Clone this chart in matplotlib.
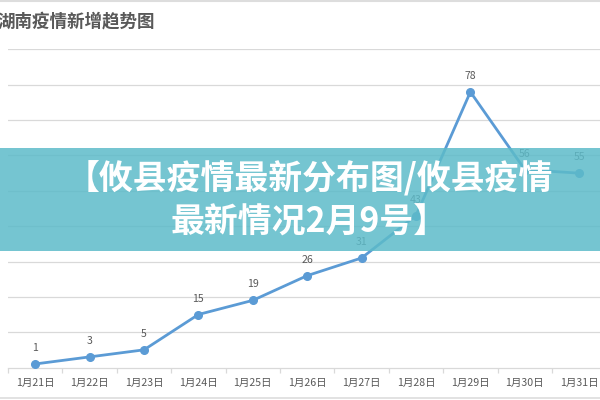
import matplotlib
matplotlib.use("Agg")
import matplotlib.pyplot as plt
from matplotlib.patches import Rectangle
from matplotlib.lines import Line2D

plt.rcParams['font.family'] = ['Noto Sans CJK SC', 'DejaVu Sans']

# data
days = ['1月21日', '1月22日', '1月23日', '1月24日', '1月25日', '1月26日',
        '1月27日', '1月28日', '1月29日', '1月30日', '1月31日']
new_cases = [1, 3, 5, 15, 19, 26, 31, 43, 78, 56, 55]
grid_levels = [10, 20, 30, 40, 50, 60, 70, 80, 90]

chart_title = '湖南疫情新增趋势图'
banner_text = '【攸县疫情最新分布图/攸县疫情\n最新情况2月9号】'

line_color = '#5B9BD5'
text_gray = '#595959'
grid_gray = '#D9D9D9'

fig = plt.figure(figsize=(6, 4), dpi=100)
fig.patch.set_facecolor('white')

# plot area in figure fractions (pixels / size)
ax = fig.add_axes([8 / 600, 32.5 / 400, 598.4 / 600, 318 / 400])
x = list(range(len(days)))
ax.plot(x, new_cases, color=line_color, lw=2.0, marker='o', ms=5.5,
        solid_capstyle='round', zorder=3)
for xi, v in zip(x, new_cases):
    ax.annotate(str(v), (xi, v), xytext=(0, 11.5), textcoords='offset points',
                ha='center', va='center', fontsize=7.6, color=text_gray)

ax.set_xlim(-0.5, len(days) - 0.5)
ax.set_ylim(0, 90)
for g in grid_levels:
    ax.axhline(g, color=grid_gray, lw=0.9, zorder=1)

ax.set_yticks([])
ax.set_xticks([i - 0.5 for i in range(len(days) + 1)])
ax.set_xticklabels([])
ax.set_xticks(x, minor=True)
ax.set_xticklabels(days, minor=True)
ax.tick_params(axis='x', which='major', length=3.5, color=grid_gray, width=0.9)
ax.tick_params(axis='x', which='minor', length=0, pad=7.5, labelsize=7.6,
               labelcolor=text_gray)
for s in ['top', 'right', 'left']:
    ax.spines[s].set_visible(False)
ax.spines['bottom'].set_color(grid_gray)
ax.spines['bottom'].set_linewidth(0.9)
ax.set_facecolor('none')

fig.text(-0.004, 1 - 21 / 400, chart_title, ha='left', va='center',
         fontsize=12.6, fontweight='bold', color=text_gray)

# thin border lines top and bottom
fig.add_artist(Line2D([0, 1], [1 - 0.6 / 400, 1 - 0.6 / 400], color='#DDDDDD', lw=1.5))
fig.add_artist(Line2D([0, 1], [2 / 400, 2 / 400], color='#DDDDDD', lw=1.2))

# teal banner across the chart
fig.add_artist(Rectangle((0, 1 - 251 / 400), 1, 103 / 400, transform=fig.transFigure,
                         facecolor=(93 / 255, 187 / 255, 201 / 255), alpha=0.85,
                         edgecolor='none', zorder=5))
fig.text(309 / 600, 1 - 200 / 400, banner_text, ha='center', va='center',
         multialignment='center', fontsize=24.4, fontweight='bold', color='white',
         linespacing=1.3, zorder=6)

fig.savefig('out.png', dpi=100)
